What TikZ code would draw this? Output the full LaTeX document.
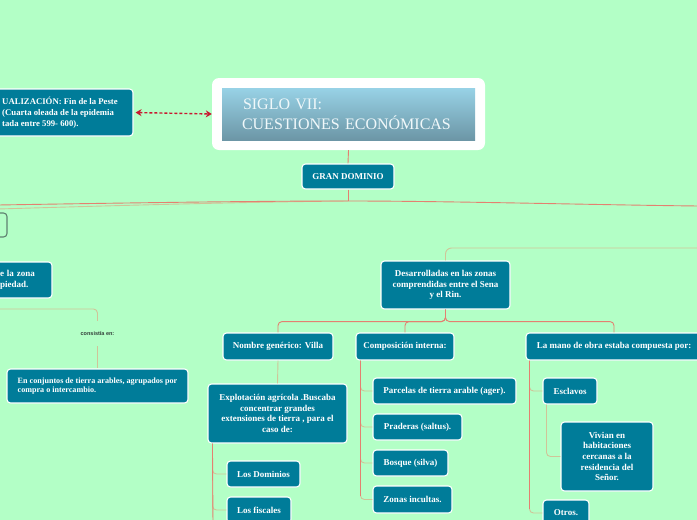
\documentclass[tikz,border=0pt]{standalone}
\usepackage{fontspec}
\setmainfont{Liberation Serif}
\newfontfamily\lsans{Liberation Sans}
\usetikzlibrary{arrows.meta,calc}
\definecolor{bg}{RGB}{179,255,198}
\definecolor{nodecol}{RGB}{0,124,153}
\definecolor{linered}{RGB}{228,128,112}
\definecolor{linetan}{RGB}{208,196,152}
\definecolor{arrowred}{RGB}{200,24,48}
\definecolor{titletop}{RGB}{152,210,230}
\definecolor{titlebot}{RGB}{108,150,166}
\definecolor{titletext}{RGB}{240,248,250}
\definecolor{outlinecol}{RGB}{96,130,112}
\definecolor{labelcol}{RGB}{50,62,56}
\begin{document}
\begin{tikzpicture}[x=1pt,y=-1pt,
  box/.style={draw=white, line width=1.1pt, fill=nodecol, rounded corners=3.5pt,
    text=white, font=\fontsize{9}{10.6}\selectfont\bfseries, inner sep=0pt,
    align=center, minimum height=26pt},
  trunk/.style={draw=linered, line width=0.9pt, rounded corners=4pt},
  branch/.style={draw=linetan, line width=0.9pt, rounded corners=4pt},
  dasharrow/.style={draw=arrowred, line width=1.4pt, dash pattern=on 3pt off 2pt,
    {Stealth[length=6pt,width=7pt]}-{Stealth[length=6pt,width=7pt]}}
]
\fill[bg] (0,0) rectangle (697,520);
\useasboundingbox (0,0) rectangle (697,520);

% title
\node[fill=white, rounded corners=7pt, minimum width=273pt, minimum height=72pt, inner sep=0pt] (titleout) at (348.5,114) {};
\node[top color=titletop, bottom color=titlebot, minimum width=253pt, minimum height=52pt,
  inner sep=0pt, text width=213pt, align=left, text=titletext,
  font=\fontsize{16}{20}\selectfont] (title) at (348.5,114) {\hspace{1pt}SIGLO VII:\\CUESTIONES ECONÓMICAS};

% left context node
\node[box, minimum width=146pt, minimum height=47pt, align=left,
  font=\fontsize{8.7}{11}\selectfont\bfseries] (ctx) at (60,112.5)
  {UALIZACIÓN: Fin de la Peste\\(Cuarta oleada de la epidemia\\tada entre 599- 600).};
\draw[dasharrow, shorten <=2pt] (ctx.east) -- (titleout.west);

% gran dominio
\node[box, minimum width=92pt, minimum height=25pt] (gran) at (348,176.5) {GRAN DOMINIO};
\draw[trunk] (titleout.south) -- (gran.north);
\coordinate (hub) at (348,201);
\coordinate (offL1) at (-2,205);
\coordinate (offL2) at (-2,209);
\coordinate (offR1) at (699,206);
\draw[trunk] (gran.south) -- (hub);
\draw[branch] (hub) .. controls (240,202) and (100,206) .. (offL2);
\draw[trunk] (hub) .. controls (250,201) and (120,203) .. (offL1);
\draw[trunk] (hub) .. controls (450,201) and (600,205) .. (offR1);

% left partial nodes
\node[draw=outlinecol, line width=1.1pt, rounded corners=3.5pt, minimum width=30pt, minimum height=24pt, inner sep=0pt] (lsmall) at (-8,225) {};
\node[box, minimum width=62pt, minimum height=36pt, text width=42pt, align=left] (lzona) at (21,280) {e la zona\\piedad.};
\coordinate (offL3) at (-2,309);
\node[inner sep=0pt, minimum height=25pt, text=labelcol, font=\lsans\bfseries\fontsize{5.5}{6}\selectfont] (consist) at (97.5,333.5) {consistía en:};
\draw[branch] (offL3) -| (consist.north);
\node[box, minimum width=181pt, minimum height=34pt, align=left,
  font=\fontsize{8.1}{9.8}\selectfont\bfseries] (conj) at (97.5,386)
  {En conjuntos de tierra arables, agrupados por\\compra o intercambio.};
\draw[branch] (consist.south) -- (conj.north);

% desarrolladas
\node[box, minimum width=129pt, minimum height=48pt] (desar) at (445.5,285)
  {Desarrolladas en las zonas\\comprendidas entre el Sena\\y el Rin.};
\coordinate (offR2) at (699,248);
\draw[branch, rounded corners=6pt] (desar.north) |- (offR2);

% level children
\node[box, minimum width=110pt, minimum height=27pt] (nombre) at (278,346.5) {Nombre genérico: Villa};
\node[box, minimum width=98pt, minimum height=27pt] (comp) at (405,346.5) {Composición interna:};
\node[box, minimum width=176pt, minimum height=27pt] (mano) at (614,346.5) {La mano de obra estaba compuesta por:};
\draw[trunk] (desar.south) -- ++(0,12) -| (nombre.north);
\draw[trunk] (desar.south) -- ++(0,12) -| (comp.north);
\draw[trunk] (desar.south) -- ++(0,12) -| (mano.north);

% villa branch
\node[box, minimum width=139pt, minimum height=59pt] (explot) at (277.5,413.5)
  {Explotación agrícola .Buscaba\\concentrar grandes\\extensiones de tierra , para el\\caso de:};
\draw[branch] (nombre.south) -- (explot.north);
\node[box, minimum width=73pt] (dom) at (263.5,474) {Los Dominios};
\node[box, minimum width=64pt] (fis) at (259,510) {Los fiscales};
\coordinate (ex) at ($(explot.south west)+(5,0)$);
\coordinate (offB1) at (213,525);
\draw[branch] (ex) |- (dom.west);
\draw[branch] (ex) |- (fis.west);
\draw[trunk] (ex) -- (offB1);

% composicion branch
\node[box, minimum width=143pt] (parc) at (444.5,391) {Parcelas de tierra arable (ager).};
\node[box, minimum width=89pt] (prad) at (417.5,427) {Praderas (saltus).};
\node[box, minimum width=75pt] (bosq) at (410.5,463) {Bosque (silva)};
\node[box, minimum width=79pt, minimum height=27pt] (zonas) at (412.5,499.5) {Zonas incultas.};
\coordinate (cp) at ($(comp.south west)+(5,0)$);
\draw[branch] (cp) |- (parc.west);
\draw[branch] (cp) |- (prad.west);
\draw[branch] (cp) |- (bosq.west);
\draw[branch] (cp) |- (zonas.west);
\draw[trunk] (cp) -- ($(cp |- zonas.west)+(0,-4)$);

% mano branch
\node[box, minimum width=54pt] (escl) at (570,391) {Esclavos};
\node[box, minimum width=46pt] (otros) at (566,513) {Otros.};
\node[box, minimum width=92pt, minimum height=69pt] (viv) at (607,456.5)
  {Vivian en\\habitaciones\\cercanas a la\\residencia del\\Señor.};
\coordinate (mp) at ($(mano.south west)+(4,0)$);
\draw[branch] (mp) |- (escl.west);
\draw[branch] (mp) |- (otros.west);
\draw[trunk] (mp) -- ($(mp |- otros.west)+(0,-4)$);
\coordinate (ep) at ($(escl.south west)+(4,0)$);
\draw[branch] (ep) |- (viv.west);
\end{tikzpicture}
\end{document}
